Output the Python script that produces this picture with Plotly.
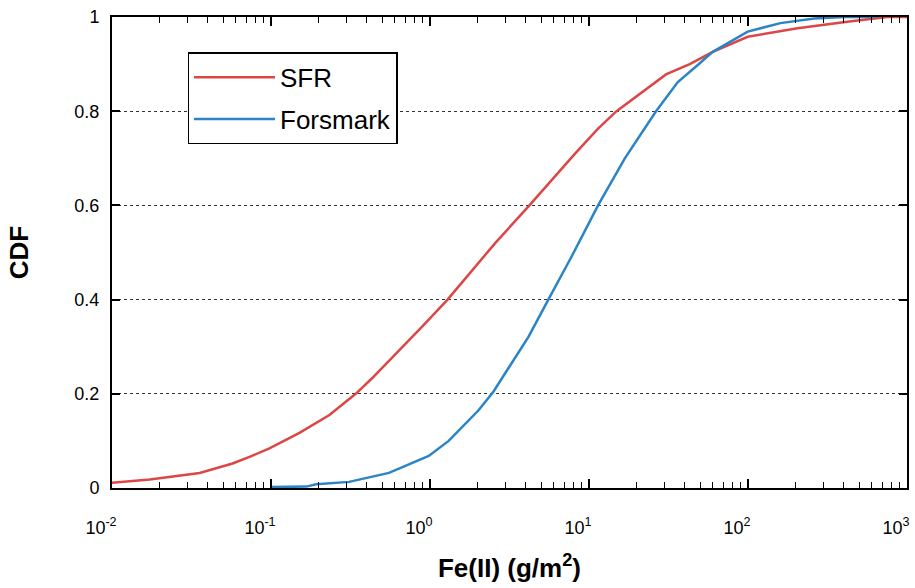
import plotly.graph_objects as go

# ---- data ----
sfr_x = [0.0100, 0.0173, 0.0356, 0.0573, 0.0733, 0.0977, 0.151, 0.233, 0.341, 0.432,
         0.889, 1.29, 2.57, 4.22, 8.17, 11.4, 14.9, 18.5, 24.0, 30.5, 43.0, 60.0,
         99.6, 205, 421, 621, 750, 1000]
sfr_y = [0.011, 0.018, 0.032, 0.052, 0.066, 0.084, 0.117, 0.155, 0.200, 0.233,
         0.342, 0.400, 0.520, 0.600, 0.710, 0.763, 0.800, 0.824, 0.853, 0.878, 0.900, 0.926,
         0.958, 0.976, 0.990, 0.997, 1.000, 1.000]

fors_x = [0.099, 0.167, 0.192, 0.310, 0.552, 0.982, 1.31, 2.02, 2.51, 4.16,
          5.55, 7.76, 11.4, 16.8, 26.4, 36.2, 48.3, 60.0, 99.6, 160, 261, 403, 649]
fors_y = [0.002, 0.003, 0.008, 0.013, 0.032, 0.068, 0.100, 0.165, 0.205, 0.321,
          0.400, 0.491, 0.600, 0.700, 0.800, 0.862, 0.898, 0.926, 0.969, 0.987, 0.997, 1.000, 1.000]

x_tickvals = [0.01, 0.1, 1, 10, 100, 1000]
x_ticktext = ['10<sup>-2</sup>', '10<sup>-1</sup>', '10<sup>0</sup>',
              '10<sup>1</sup>', '10<sup>2</sup>', '10<sup>3</sup>']
y_tickvals = [0, 0.2, 0.4, 0.6, 0.8, 1.0]
y_ticktext = ['0', '0.2', '0.4', '0.6', '0.8', '1']

RED = '#DC4646'
BLUE = '#2A84C6'
FONT = 'Liberation Sans, Arial, sans-serif'

fig = go.Figure()
fig.add_trace(go.Scatter(x=sfr_x, y=sfr_y, mode='lines', name='SFR',
                         line=dict(color=RED, width=2.5), legendgroup='a'))
fig.add_trace(go.Scatter(x=fors_x, y=fors_y, mode='lines', name='Forsmark',
                         line=dict(color=BLUE, width=2.5), legendgroup='b'))

fig.update_layout(
    width=915, height=588, autosize=False,
    margin=dict(l=112, r=5, t=17, b=100),
    paper_bgcolor='white', plot_bgcolor='white',
    font=dict(family=FONT, color='black'),
    legend=dict(x=0.095, y=0.925, xanchor='left', yanchor='top',
                bgcolor='white', bordercolor='black', borderwidth=1.5,
                font=dict(size=26, family=FONT, color='black'),
                itemwidth=81, tracegroupgap=5),
    xaxis=dict(type='log', range=[-2, 3],
               tickvals=x_tickvals, ticktext=x_ticktext,
               tickfont=dict(size=18, family=FONT, color='black'),
               ticklabelshift=-11, ticklabelstandoff=22,
               ticks='inside', ticklen=9, tickwidth=1.5, tickcolor='black',
               minor=dict(ticks='inside', ticklen=6, tickwidth=1, tickcolor='black',
                          dtick='D1', showgrid=False),
               showline=True, linecolor='black', linewidth=2, mirror='ticks',
               showgrid=False, zeroline=False,
               title=dict(text='<b>Fe(II) (g/m<sup>2</sup>)</b>',
                          font=dict(size=26, family=FONT, color='black'),
                          standoff=22)),
    yaxis=dict(range=[0, 1],
               tickvals=y_tickvals, ticktext=y_ticktext,
               tickfont=dict(size=18, family=FONT, color='black'),
               ticklabelstandoff=7,
               ticks='inside', ticklen=8, tickwidth=1.5, tickcolor='black',
               showline=True, linecolor='black', linewidth=2, mirror='ticks',
               showgrid=True, gridcolor='#333333', gridwidth=1, griddash='dot',
               zeroline=False,
               title=dict(text='<b>CDF</b>',
                          font=dict(size=26, family=FONT, color='black'),
                          standoff=38)),
)

fig.write_html('out.html')
